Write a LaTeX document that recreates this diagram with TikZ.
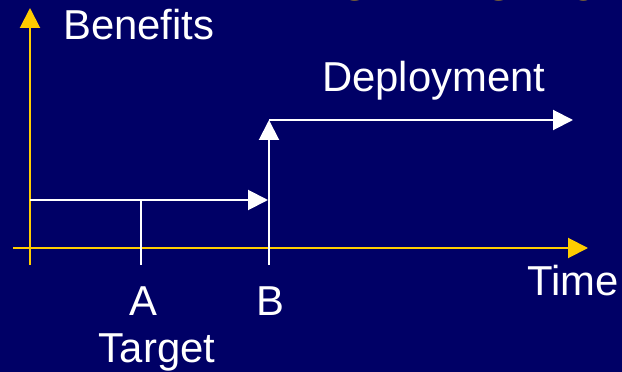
\documentclass[tikz,border=0pt]{standalone}
\usepackage{fontspec}
\setmainfont{Liberation Sans}
\usepackage{tikz}
\usetikzlibrary{arrows.meta}
\definecolor{navy}{RGB}{0,0,102}
\definecolor{gold}{RGB}{255,204,0}
\tikzset{>={Triangle[length=6mm, width=6mm]}}
\tikzset{lbl/.style={text=white, inner sep=0pt, font=\fontsize{35.7}{40}\selectfont}}

\begin{document}
\begin{tikzpicture}[x=.03cm, y=-.03cm]
    \fill[navy](0, 0)rectangle(622, 372);
    \useasboundingbox(0, 0)rectangle(622, 372);
    \node[anchor=base west, text=gold, inner sep=0pt, font=\fontsize{38.3}{42}\selectfont\bfseries](title) at(292, 1){BIG BANG MODEL};
    \draw[gold, line width=1.7pt, ->](30, 265)--(30, 8);
    \draw[gold, line width=1.7pt, ->](13, 248)--(588, 248);
    \draw[white, line width=1.7pt, ->](30, 200)--(268, 200);
    \draw[white, line width=1.7pt](141, 200)--(141, 265);
    \draw[white, line width=1.7pt, ->](269, 265)--(269, 120);
    \draw[white, line width=1.7pt, ->](269, 120)--(573, 120);
    \node[lbl, anchor=base west](benefits) at(63, 40){Benefits};
    \node[lbl, anchor=base west](deploy) at(322, 92){Deployment};
    \node[lbl, anchor=base west](time) at(527, 295){Time};
    \node[lbl, anchor=base](a) at(143, 315){A};
    \node[lbl, anchor=base](b) at(270, 315){B};
    \node[lbl, anchor=base](target) at(157, 362){Target};
\end{tikzpicture}
\end{document}
